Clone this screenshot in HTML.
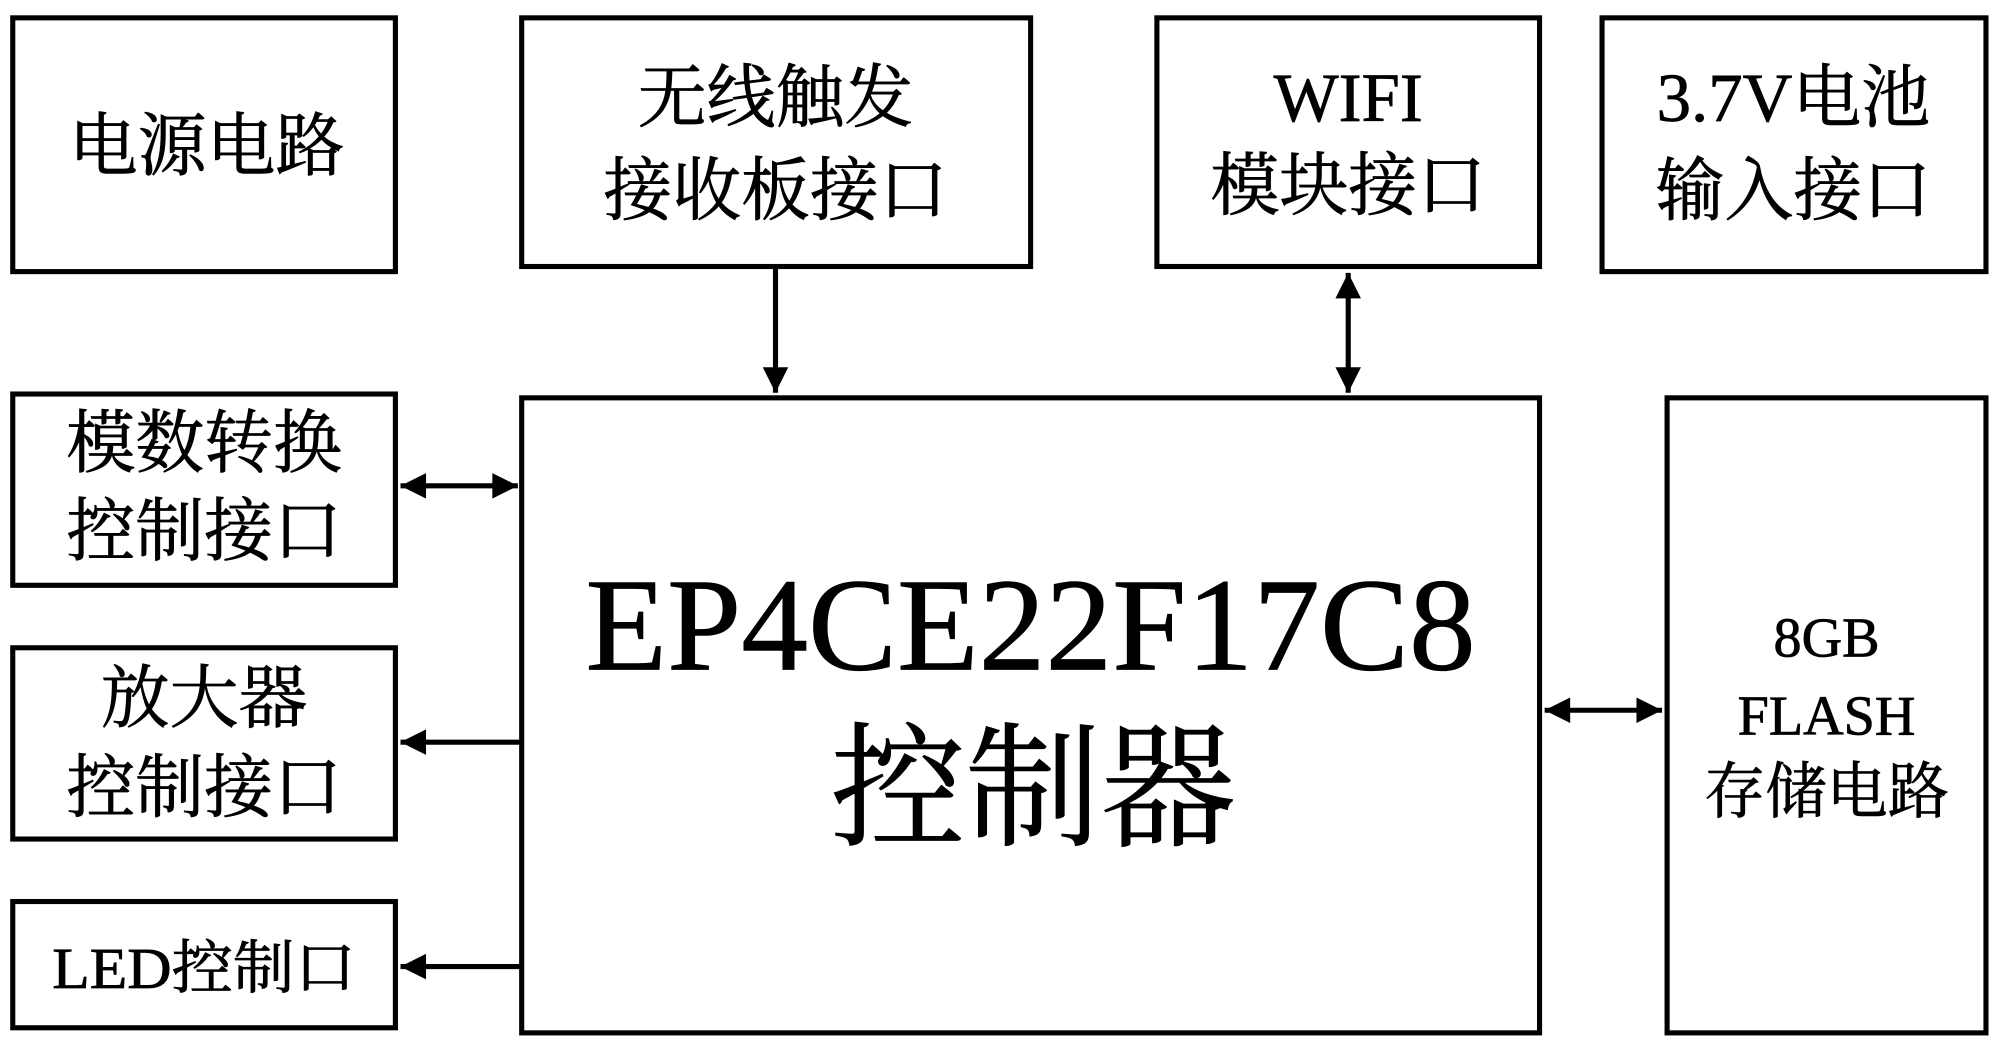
<!DOCTYPE html>
<html><head><meta charset="utf-8"><style>html,body{margin:0;padding:0;background:#fff;}svg{display:block}</style></head>
<body>
<svg width="2000" height="1052" viewBox="0 0 1568 825" preserveAspectRatio="none" xmlns="http://www.w3.org/2000/svg">
<defs>
<marker id="a" viewBox="0 0 10 10" refX="10" refY="5" markerWidth="6" markerHeight="5" orient="auto-start-reverse" markerUnits="strokeWidth"><path d="M0,0 L10,5 L0,10 z" fill="#000"/></marker>
</defs>
<g fill="none" stroke="#000" stroke-width="4">
<rect x="10" y="14" width="300" height="199"/>
<rect x="409" y="14" width="399" height="195"/>
<rect x="907" y="14" width="300" height="195"/>
<rect x="1256" y="14" width="301" height="199"/>
<rect x="10" y="309" width="300" height="150"/>
<rect x="10" y="508" width="300" height="150"/>
<rect x="10" y="707" width="300" height="99"/>
<rect x="409" y="312" width="798" height="498"/>
<rect x="1307" y="312" width="250" height="498"/>
</g>
<g stroke="#000" stroke-width="4" fill="none">
<line x1="608" y1="210" x2="608" y2="308" marker-end="url(#a)"/>
<line x1="1057" y1="214" x2="1057" y2="308" marker-start="url(#a)" marker-end="url(#a)"/>
<line x1="314" y1="381" x2="406" y2="381" marker-start="url(#a)" marker-end="url(#a)"/>
<line x1="409" y1="582" x2="314" y2="582" marker-end="url(#a)"/>
<line x1="409" y1="758" x2="314" y2="758" marker-end="url(#a)"/>
<line x1="1211" y1="557" x2="1303" y2="557" marker-start="url(#a)" marker-end="url(#a)"/>
</g>
<g font-family="'Liberation Serif','Noto Serif CJK SC',serif" fill="#000" text-anchor="middle" font-size="54" stroke="#000" stroke-width="0.6">
<text x="162" y="133">电源电路</text>
<text x="608" y="95">无线触发</text>
<text x="608" y="168">接收板接口</text>
<text x="1057" y="95">WIFI</text>
<text x="1057" y="164">模块接口</text>
<text x="1406" y="95">3.7V电池</text>
<text x="1406" y="168">输入接口</text>
<text x="160" y="366">模数转换</text>
<text x="160" y="435">控制接口</text>
<text x="160" y="566">放大器</text>
<text x="160" y="636">控制接口</text>
<text x="160" y="775" font-size="46" textLength="238" lengthAdjust="spacingAndGlyphs">LED控制口</text>
<text x="808" y="525" font-size="104" textLength="698" lengthAdjust="spacingAndGlyphs">EP4CE22F17C8</text>
<text x="810" y="655" font-size="106">控制器</text>
<text x="1432" y="515" font-size="44">8GB</text>
<text x="1432" y="576" font-size="44">FLASH</text>
<text x="1432" y="637" font-size="48">存储电路</text>
</g>
</svg>
</body></html>
